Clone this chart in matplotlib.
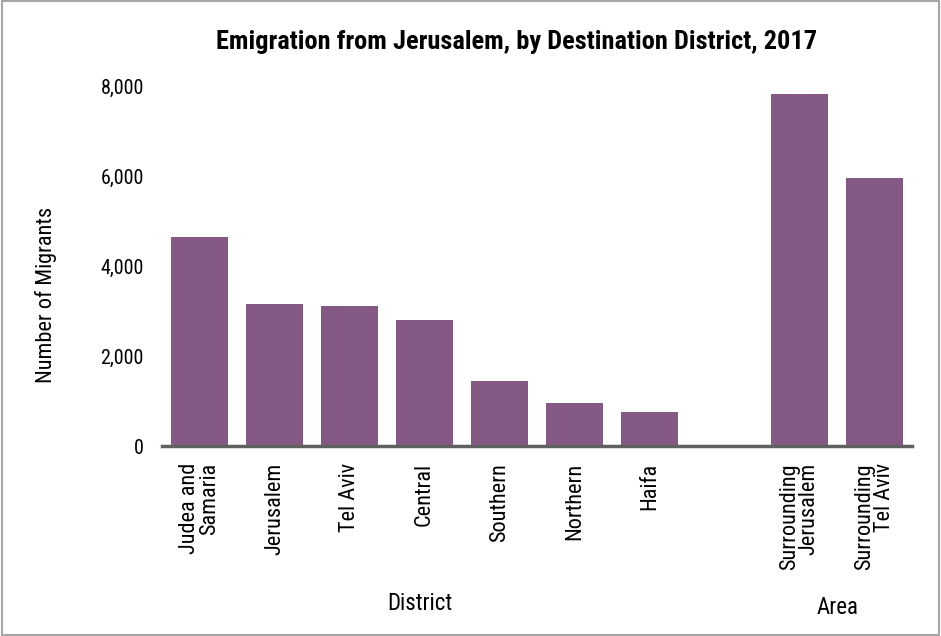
import matplotlib.pyplot as plt
from matplotlib.patches import Rectangle
import matplotlib.transforms as mtransforms
from matplotlib import font_manager

# prefer a narrow face when one is available
installed = {f.name for f in font_manager.fontManager.ttflist}
families = [f for f in ['Roboto Condensed', 'Liberation Sans Narrow',
                        'Liberation Sans'] if f in installed]
plt.rcParams['font.family'] = families + ['DejaVu Sans']

# Migrants from Jerusalem by destination, 2017
districts = ['Judea and\nSamaria', 'Jerusalem', 'Tel Aviv', 'Central',
             'Southern', 'Northern', 'Haifa']
district_values = [4650, 3170, 3120, 2810, 1460, 970, 770]
areas = ['Surrounding\nJerusalem', 'Surrounding\nTel Aviv']
area_values = [7830, 5970]

yticks = [0, 2000, 4000, 6000, 8000]
bar_color = '#845983'

labels = districts + [''] + areas
values = district_values + [0] + area_values
xs = list(range(len(labels)))

fig = plt.figure(figsize=(9.41, 6.36), dpi=100)
ax = fig.add_axes([0.1722, 0.298, 0.797, 0.5657])

bars = ax.bar([x for x, l in zip(xs, labels) if l],
              [v for v, l in zip(values, labels) if l],
              width=0.75, color=bar_color)

ax.set_xlim(-0.5, len(labels) - 0.5)
ax.set_ylim(0, 8000)
ax.set_yticks(yticks)
ax.set_yticklabels([f'{t:,}' for t in yticks], fontsize=14.5)
ax.set_xticks([x for x, l in zip(xs, labels) if l])
ax.set_xticklabels([l for l in labels if l], rotation=90, fontsize=16,
                   multialignment='right', va='top', ha='center',
                   linespacing=0.9)
ax.tick_params(axis='y', length=0, pad=13)
ax.tick_params(axis='x', length=0, pad=12)

for side in ['top', 'right', 'left']:
    ax.spines[side].set_visible(False)
ax.spines['bottom'].set_color('#606060')
ax.spines['bottom'].set_linewidth(2.5)

ax.set_ylabel('Number of Migrants', fontsize=16)
ax.yaxis.set_label_coords(-0.14, 0.42)

# group captions under the category labels
trans = mtransforms.blended_transform_factory(ax.transData, fig.transFigure)
ax.text(2.94, 1 - 603 / 636, 'District', transform=trans, ha='center',
        va='center', fontsize=16.5)
ax.text(8.5, 1 - 607 / 636, 'Area', transform=trans, ha='center',
        va='center', fontsize=16.5)

fig.suptitle('Emigration from Jerusalem, by Destination District, 2017',
             x=0.549, y=1 - 42 / 636, va='center', fontsize=19,
             fontweight='bold')

fig.patches.append(Rectangle((0.002, 0.002), 0.996, 0.996,
                             transform=fig.transFigure, fill=False,
                             edgecolor='#A6A6A6', linewidth=1.5))

fig.savefig('out.png', dpi=100)
